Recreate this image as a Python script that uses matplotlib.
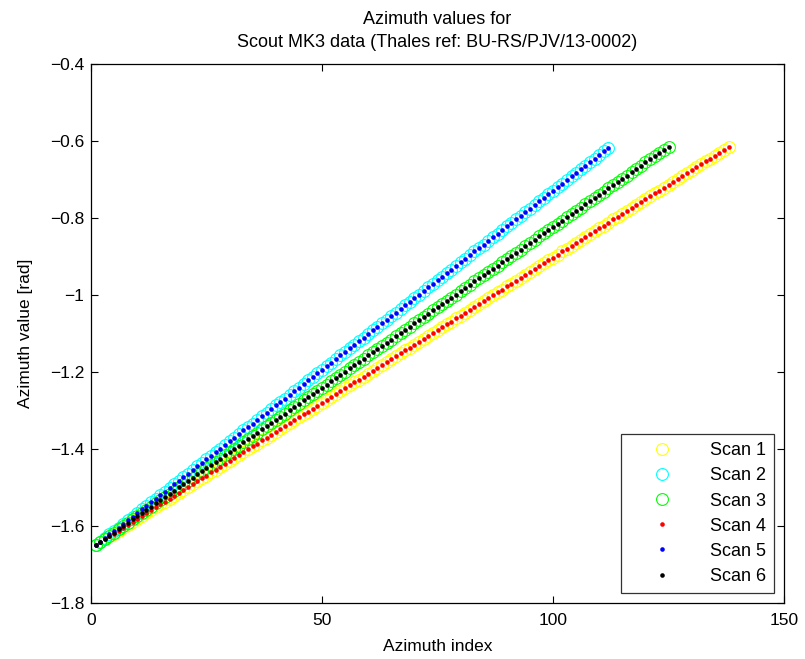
import numpy as np
import matplotlib
matplotlib.use("Agg")
import matplotlib.pyplot as plt

plt.rcParams['font.family'] = ['Liberation Sans', 'DejaVu Sans']
plt.rcParams['axes.unicode_minus'] = True

# azimuth values (rad); scans 4-6 repeat scans 1-3 as dots
scan1 = [
    -1.650, -1.642, -1.635, -1.627, -1.620, -1.612, -1.605, -1.597, -1.590, -1.582,
    -1.575, -1.567, -1.559, -1.552, -1.544, -1.537, -1.529, -1.522, -1.514, -1.507,
    -1.499, -1.491, -1.484, -1.476, -1.469, -1.461, -1.454, -1.446, -1.439, -1.431,
    -1.424, -1.416, -1.408, -1.401, -1.393, -1.386, -1.378, -1.371, -1.363, -1.356,
    -1.348, -1.340, -1.333, -1.325, -1.318, -1.310, -1.303, -1.295, -1.288, -1.280,
    -1.273, -1.265, -1.257, -1.250, -1.242, -1.235, -1.227, -1.220, -1.212, -1.205,
    -1.197, -1.189, -1.182, -1.174, -1.167, -1.159, -1.152, -1.144, -1.137, -1.129,
    -1.122, -1.114, -1.106, -1.099, -1.091, -1.084, -1.076, -1.069, -1.061, -1.054,
    -1.046, -1.038, -1.031, -1.023, -1.016, -1.008, -1.001, -0.993, -0.986, -0.978,
    -0.971, -0.963, -0.955, -0.948, -0.940, -0.933, -0.925, -0.918, -0.910, -0.903,
    -0.895, -0.887, -0.880, -0.872, -0.865, -0.857, -0.850, -0.842, -0.835, -0.827,
    -0.820, -0.812, -0.804, -0.797, -0.789, -0.782, -0.774, -0.767, -0.759, -0.752,
    -0.744, -0.736, -0.729, -0.721, -0.714, -0.706, -0.699, -0.691, -0.684, -0.676,
    -0.669, -0.661, -0.653, -0.646, -0.638, -0.631, -0.623, -0.616,
]
scan2 = [
    -1.650, -1.641, -1.631, -1.622, -1.613, -1.604, -1.594, -1.585, -1.576, -1.566,
    -1.557, -1.548, -1.538, -1.529, -1.520, -1.511, -1.501, -1.492, -1.483, -1.473,
    -1.464, -1.455, -1.445, -1.436, -1.427, -1.418, -1.408, -1.399, -1.390, -1.380,
    -1.371, -1.362, -1.352, -1.343, -1.334, -1.325, -1.315, -1.306, -1.297, -1.287,
    -1.278, -1.269, -1.259, -1.250, -1.241, -1.232, -1.222, -1.213, -1.204, -1.194,
    -1.185, -1.176, -1.166, -1.157, -1.148, -1.139, -1.129, -1.120, -1.111, -1.101,
    -1.092, -1.083, -1.073, -1.064, -1.055, -1.046, -1.036, -1.027, -1.018, -1.008,
    -0.999, -0.990, -0.980, -0.971, -0.962, -0.953, -0.943, -0.934, -0.925, -0.915,
    -0.906, -0.897, -0.887, -0.878, -0.869, -0.860, -0.850, -0.841, -0.832, -0.822,
    -0.813, -0.804, -0.794, -0.785, -0.776, -0.767, -0.757, -0.748, -0.739, -0.729,
    -0.720, -0.711, -0.701, -0.692, -0.683, -0.674, -0.664, -0.655, -0.646, -0.636,
    -0.627, -0.618,
]
scan3 = [
    -1.650, -1.642, -1.633, -1.625, -1.617, -1.608, -1.600, -1.592, -1.583, -1.575,
    -1.567, -1.558, -1.550, -1.541, -1.533, -1.525, -1.516, -1.508, -1.500, -1.491,
    -1.483, -1.475, -1.466, -1.458, -1.450, -1.441, -1.433, -1.425, -1.416, -1.408,
    -1.400, -1.391, -1.383, -1.374, -1.366, -1.358, -1.349, -1.341, -1.333, -1.324,
    -1.316, -1.308, -1.299, -1.291, -1.283, -1.274, -1.266, -1.258, -1.249, -1.241,
    -1.233, -1.224, -1.216, -1.207, -1.199, -1.191, -1.182, -1.174, -1.166, -1.157,
    -1.149, -1.141, -1.132, -1.124, -1.116, -1.107, -1.099, -1.091, -1.082, -1.074,
    -1.066, -1.057, -1.049, -1.040, -1.032, -1.024, -1.015, -1.007, -0.999, -0.990,
    -0.982, -0.974, -0.965, -0.957, -0.949, -0.940, -0.932, -0.924, -0.915, -0.907,
    -0.899, -0.890, -0.882, -0.873, -0.865, -0.857, -0.848, -0.840, -0.832, -0.823,
    -0.815, -0.807, -0.798, -0.790, -0.782, -0.773, -0.765, -0.757, -0.748, -0.740,
    -0.732, -0.723, -0.715, -0.706, -0.698, -0.690, -0.681, -0.673, -0.665, -0.656,
    -0.648, -0.640, -0.631, -0.623, -0.615,
]
scan4 = scan1
scan5 = scan2
scan6 = scan3

labels = ['Scan 1', 'Scan 2', 'Scan 3', 'Scan 4', 'Scan 5', 'Scan 6']
x_ticks = [0, 50, 100, 150]
y_ticks = [-1.8, -1.6, -1.4, -1.2, -1.0, -0.8, -0.6, -0.4]
y_tick_labels = ['\u22121.8', '\u22121.6', '\u22121.4', '\u22121.2', '\u22121',
                 '\u22120.8', '\u22120.6', '\u22120.4']

fig = plt.figure(figsize=(8.05, 6.59), dpi=100)
ax = fig.add_axes([0.113, 0.085, 0.861, 0.818])

series = [scan1, scan2, scan3, scan4, scan5, scan6]
circle_cols = ['#ffff00', '#00ffff', '#00ff00']
dot_cols = ['#ff0000', '#0000ff', '#000000']

for i in range(3):
    y = series[i]
    ax.plot(np.arange(1, len(y) + 1), y, linestyle='none', marker='o',
            markersize=8.5, markerfacecolor='none', markeredgecolor=circle_cols[i],
            markeredgewidth=0.8, label=labels[i])
for i in range(3):
    y = series[i + 3]
    ax.plot(np.arange(1, len(y) + 1), y, linestyle='none', marker='o',
            markersize=3.3, markerfacecolor=dot_cols[i], markeredgewidth=0,
            label=labels[i + 3])

ax.set_xlim(0, 150)
ax.set_ylim(-1.8, -0.4)
ax.set_xticks(x_ticks)
ax.set_yticks(y_ticks)
ax.set_yticklabels(y_tick_labels)
ax.tick_params(direction='in', length=5, width=0.8, top=True, right=True,
               labelsize=12.5)
ax.tick_params(axis='x', pad=7)
ax.tick_params(axis='y', pad=5)
for s in ax.spines.values():
    s.set_linewidth(0.9)

ax.set_title('Azimuth values for\nScout MK3 data (Thales ref: BU-RS/PJV/13-0002)',
             fontsize=13, pad=12, linespacing=1.45)
ax.set_xlabel('Azimuth index', fontsize=12.5, labelpad=8)
ax.set_ylabel('Azimuth value [rad]', fontsize=12.5, labelpad=12)

leg = ax.legend(loc='lower right', fontsize=13, frameon=True, fancybox=False,
                edgecolor='black', borderaxespad=0.55, handletextpad=0.85,
                labelspacing=0.45, handlelength=3.6, borderpad=0.45)
leg.get_frame().set_linewidth(0.9)

fig.savefig('out.png', dpi=100)
